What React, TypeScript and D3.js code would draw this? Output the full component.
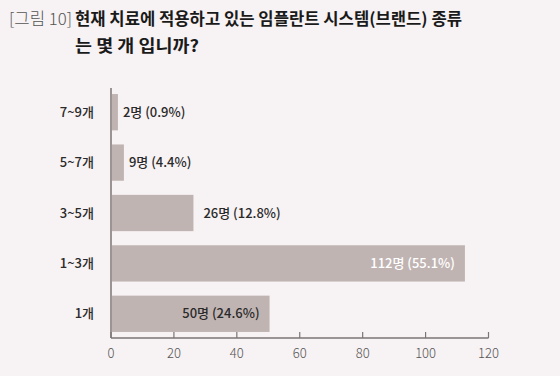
import React from "react";
import * as d3 from "d3";

const categories = ["7~9개", "5~7개", "3~5개", "1~3개", "1개"];
const counts = [2, 9, 26, 112, 50];
// bar lengths as drawn in the reference picture
const barLengths = [2.2, 4.1, 26.2, 112.5, 50.4];
const percents = ["0.9%", "4.4%", "12.8%", "55.1%", "24.6%"];
const xTicks = [0, 20, 40, 60, 80, 100, 120];
const titlePrefix = "[그림 10]";
const titleLine1 = "현재 치료에 적용하고 있는 임플란트 시스템(브랜드) 종류";
const titleLine2 = "는 몇 개 입니까?";

const W = 560;
const H = 376;
const BG = "#f7f2f3";
const BAR = "#c0b4b2";
const AXIS = "#7b7575";
const FONT = "'Noto Sans CJK KR', 'Noto Sans', sans-serif";

export default function App() {
  const x = d3.scaleLinear().domain([0, 120]).range([111, 488.5]);
  const y = d3.scaleBand().domain(categories).range([87, 339]).paddingInner(0.28).paddingOuter(0.14);
  const axisY = 338;
  const x0 = x(0);

  return (
    <div style={{ position: "fixed", left: 0, top: 0, width: W, height: H, background: BG }}>
      <svg width={W} height={H} style={{ display: "block", fontFamily: FONT }}>
        <rect width={W} height={H} fill={BG} />
        <text x={9} y={25} fontSize={16.5} fill="#555" fontWeight={300} textLength={63} lengthAdjust="spacingAndGlyphs">
          {titlePrefix}
        </text>
        <text x={75} y={25} fontSize={16.5} fill="#1a1a1a" fontWeight={700} textLength={387} lengthAdjust="spacingAndGlyphs">
          {titleLine1}
        </text>
        <text x={75} y={52} fontSize={16.5} fill="#1a1a1a" fontWeight={700} textLength={124} lengthAdjust="spacingAndGlyphs">
          {titleLine2}
        </text>

        {categories.map((c, i) => {
          const yy = y(c)!;
          const bw = y.bandwidth();
          const xe = x(barLengths[i]);
          const label = `${counts[i]}명 (${percents[i]})`;
          const inside = counts[i] >= 40;
          return (
            <g key={c}>
              <rect x={x0 + 1} y={yy} width={xe - x0 - 1} height={bw} fill={BAR} />
              <text x={94} y={yy + bw / 2} dy="0.35em" textAnchor="end" fontSize={13} fill="#2a2a2a" fontWeight={500}>
                {c}
              </text>
              <text
                x={inside ? xe - 10 : xe + (counts[i] > 20 ? 10 : 5)}
                y={yy + bw / 2}
                dy="0.35em"
                textAnchor={inside ? "end" : "start"}
                fontSize={13}
                fill={counts[i] > 100 ? "#ffffff" : "#2a2a2a"}
                fontWeight={500}
              >
                {label}
              </text>
            </g>
          );
        })}

        <line x1={x0} x2={x0} y1={88} y2={axisY} stroke={AXIS} strokeWidth={1.5} />
        <line x1={x0} x2={x(120)} y1={axisY} y2={axisY} stroke={AXIS} strokeWidth={1.5} />
        {xTicks.map((t) => (
          <g key={t}>
            <line x1={x(t)} x2={x(t)} y1={axisY - 6} y2={axisY} stroke={AXIS} strokeWidth={1.2} />
            <text x={x(t)} y={353} dy="0.35em" textAnchor="middle" fontSize={13} fill="#555" fontWeight={300}>
              {t}
            </text>
          </g>
        ))}
      </svg>
    </div>
  );
}
